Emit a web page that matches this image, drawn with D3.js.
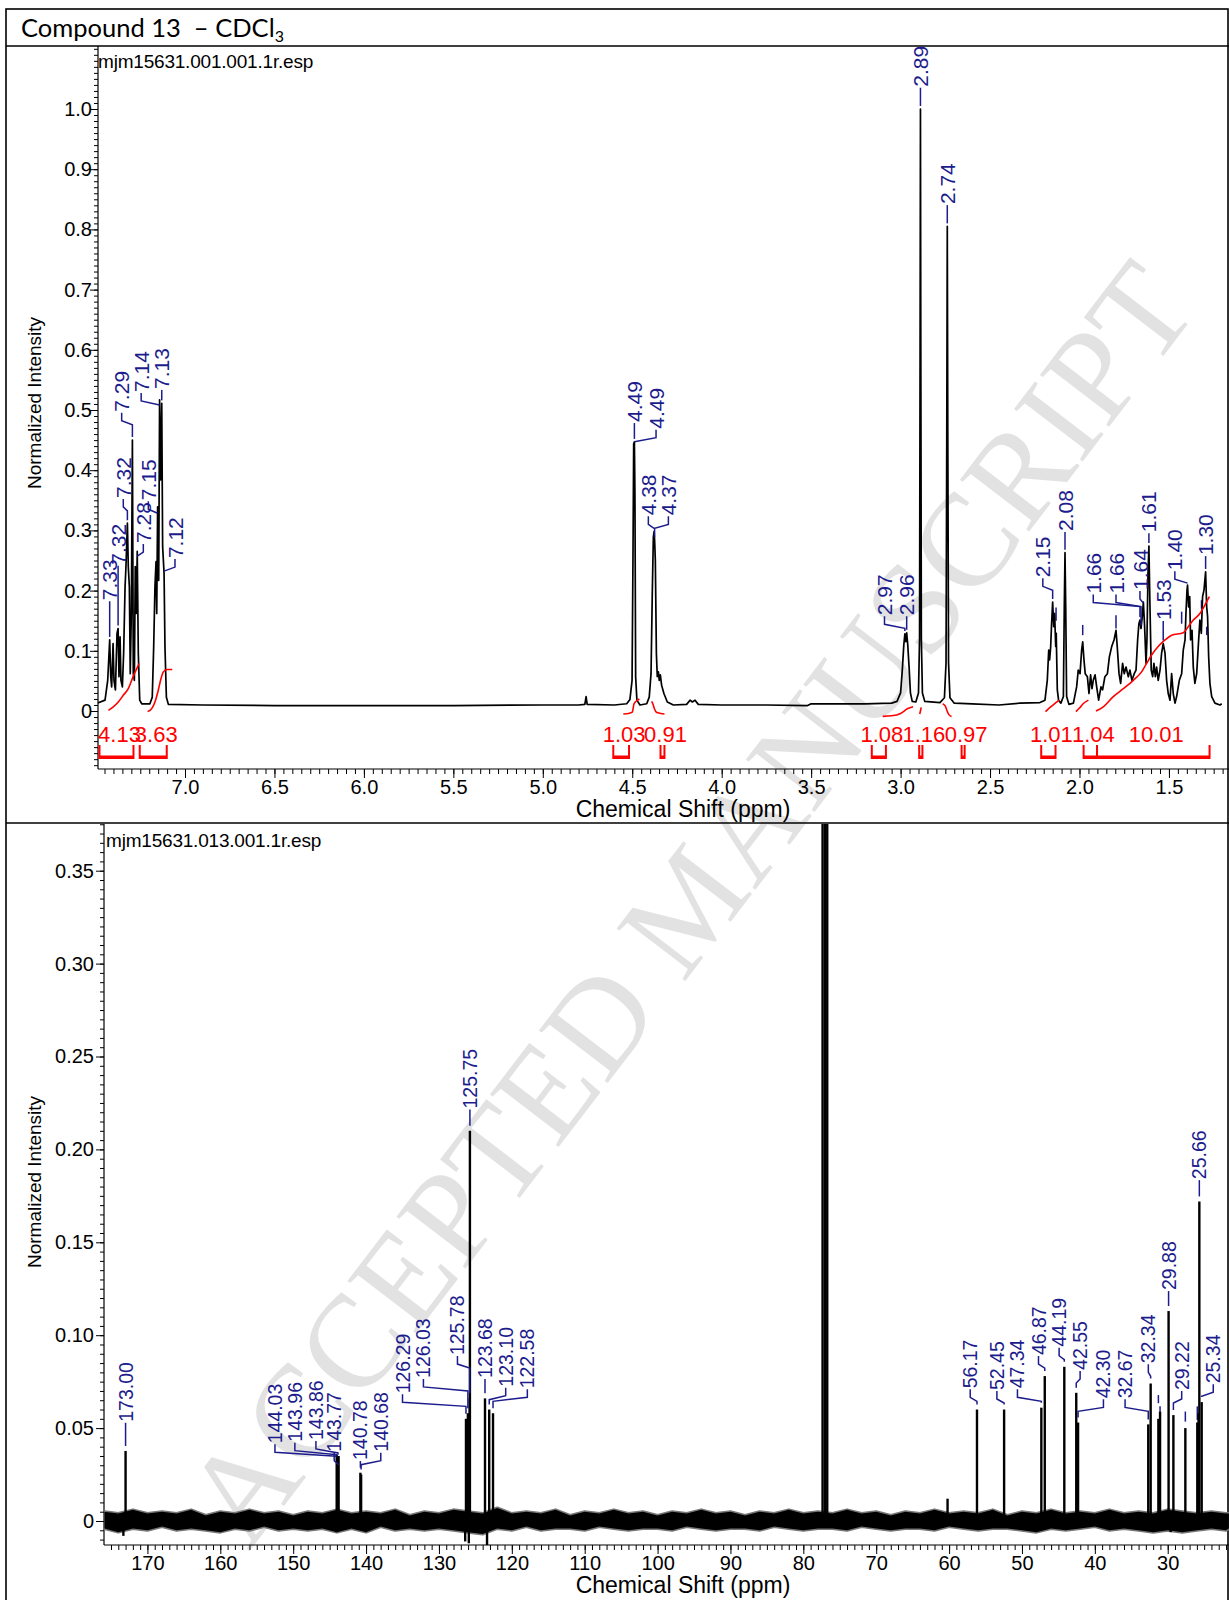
<!DOCTYPE html>
<html>
<head>
<meta charset="utf-8">
<script src="https://cdn.jsdelivr.net/npm/d3@7"></script>
<style>
  body { margin: 0; background: #fff; }
  svg text { font-family: "Liberation Sans", Arial, sans-serif; }
</style>
</head>
<body>
<div id="chart"></div>
<script>
// ---------- 1H spectrum (top panel) ----------
var hTickValues = [7.0, 6.5, 6.0, 5.5, 5.0, 4.5, 4.0, 3.5, 3.0, 2.5, 2.0, 1.5];
var hYTicks = [0, 0.1, 0.2, 0.3, 0.4, 0.5, 0.6, 0.7, 0.8, 0.9, 1.0];

// trace: [ppm, normalized intensity]
var hTrace = [
  [7.49,0.013],[7.447,0.018],[7.432,0.051],[7.421,0.118],[7.415,0.057],[7.410,0.040],[7.402,0.112],[7.397,0.051],
  [7.389,0.035],[7.380,0.129],[7.374,0.137],[7.369,0.057],[7.363,0.123],[7.358,0.051],[7.350,0.040],[7.343,0.096],
  [7.335,0.206],[7.330,0.240],[7.322,0.312],[7.317,0.240],[7.311,0.206],[7.306,0.062],[7.300,0.162],[7.294,0.450],
  [7.289,0.062],[7.283,0.051],[7.278,0.240],[7.272,0.162],[7.267,0.265],[7.261,0.096],[7.253,0.018],[7.242,0.012],
  [7.196,0.012],[7.183,0.023],[7.175,0.107],[7.168,0.206],[7.162,0.248],[7.158,0.162],[7.153,0.339],[7.147,0.217],
  [7.142,0.517],[7.136,0.384],[7.130,0.511],[7.125,0.273],[7.117,0.229],[7.112,0.107],[7.104,0.023],[7.093,0.011],
  [6.9,0.010],[6.5,0.009],[6.0,0.009],[5.5,0.009],[5.0,0.010],[4.80,0.010],[4.765,0.011],[4.758,0.024],[4.752,0.011],
  [4.60,0.010],[4.531,0.012],[4.513,0.019],[4.501,0.051],[4.496,0.25],[4.492,0.444],[4.488,0.447],[4.485,0.361],
  [4.481,0.057],[4.474,0.018],[4.457,0.010],[4.419,0.012],[4.405,0.023],[4.395,0.062],[4.388,0.195],[4.382,0.289],
  [4.378,0.298],[4.375,0.284],[4.371,0.251],[4.365,0.095],[4.36,0.057],[4.354,0.065],[4.349,0.051],[4.343,0.06],
  [4.336,0.043],[4.323,0.029],[4.304,0.015],[4.27,0.010],[4.196,0.011],[4.177,0.018],[4.164,0.015],[4.149,0.018],
  [4.131,0.011],[4.0,0.010],[3.75,0.010],[3.52,0.009],[3.50,0.012],[3.2,0.012],[3.05,0.013],[3.02,0.016],[3.0,0.03],
  [2.99,0.07],[2.982,0.11],[2.976,0.128],[2.971,0.115],[2.966,0.13],[2.96,0.11],[2.952,0.07],[2.945,0.03],[2.935,0.016],
  [2.915,0.015],[2.90,0.03],[2.894,0.12],[2.891,0.6],[2.889,1.0],[2.887,0.6],[2.884,0.12],[2.878,0.03],[2.865,0.016],
  [2.78,0.014],[2.755,0.022],[2.746,0.08],[2.742,0.45],[2.739,0.805],[2.736,0.45],[2.732,0.08],[2.724,0.022],
  [2.70,0.013],[2.6,0.012],[2.45,0.010],[2.333,0.013],[2.221,0.014],[2.193,0.018],[2.180,0.051],[2.172,0.101],
  [2.167,0.085],[2.161,0.107],[2.156,0.145],[2.150,0.181],[2.144,0.140],[2.139,0.162],[2.133,0.107],[2.130,0.129],
  [2.124,0.035],[2.117,0.018],[2.104,0.013],[2.090,0.024],[2.085,0.173],[2.081,0.263],[2.077,0.173],[2.072,0.024],
  [2.059,0.011],[2.034,0.013],[2.016,0.040],[2.007,0.068],[1.997,0.062],[1.988,0.101],[1.982,0.115],[1.975,0.085],
  [1.968,0.062],[1.956,0.057],[1.947,0.029],[1.938,0.060],[1.930,0.037],[1.923,0.051],[1.913,0.060],[1.904,0.040],
  [1.893,0.018],[1.880,0.040],[1.871,0.035],[1.858,0.057],[1.844,0.062],[1.833,0.090],[1.820,0.107],[1.807,0.118],
  [1.796,0.134],[1.789,0.107],[1.779,0.062],[1.770,0.046],[1.759,0.079],[1.750,0.062],[1.740,0.073],[1.727,0.057],
  [1.718,0.068],[1.707,0.051],[1.694,0.062],[1.684,0.068],[1.675,0.118],[1.668,0.145],[1.662,0.151],[1.656,0.137],
  [1.649,0.157],[1.643,0.181],[1.636,0.140],[1.628,0.079],[1.623,0.118],[1.617,0.229],[1.612,0.274],[1.606,0.173],
  [1.599,0.068],[1.591,0.057],[1.584,0.079],[1.576,0.057],[1.569,0.073],[1.560,0.051],[1.550,0.068],[1.541,0.096],
  [1.532,0.112],[1.522,0.096],[1.513,0.051],[1.504,0.029],[1.494,0.018],[1.485,0.062],[1.476,0.029],[1.466,0.013],
  [1.457,0.024],[1.442,0.051],[1.429,0.062],[1.420,0.101],[1.410,0.118],[1.405,0.162],[1.399,0.201],[1.396,0.209],
  [1.390,0.173],[1.384,0.190],[1.379,0.118],[1.371,0.134],[1.364,0.073],[1.355,0.046],[1.345,0.062],[1.334,0.118],
  [1.327,0.151],[1.319,0.129],[1.312,0.190],[1.304,0.201],[1.299,0.218],[1.295,0.231],[1.289,0.173],[1.284,0.157],
  [1.278,0.090],[1.271,0.046],[1.261,0.024],[1.243,0.013],[1.215,0.010],[1.205,0.012]
];

// peak labels: [text, peak ppm, peak top, label ppm, label base]
var hLabels = [
  ["7.33",7.421,0.118,7.421,0.184],
  ["7.32",7.374,0.137,7.382,0.243],
  ["7.32",7.322,0.312,7.345,0.354],
  ["7.29",7.294,0.450,7.354,0.497],
  ["7.28",7.267,0.265,7.233,0.279],
  ["7.15",7.153,0.339,7.205,0.350],
  ["7.14",7.142,0.517,7.245,0.530],
  ["7.13",7.130,0.511,7.130,0.535],
  ["7.12",7.117,0.229,7.056,0.254],
  ["4.49",4.488,0.447,4.488,0.480],
  ["4.49",4.488,0.447,4.367,0.469],
  ["4.38",4.378,0.298,4.410,0.325],
  ["4.37",4.375,0.284,4.298,0.325],
  ["2.97",2.976,0.128,3.090,0.159],
  ["2.96",2.966,0.130,2.966,0.159],
  ["2.89",2.889,1.000,2.889,1.037],
  ["2.74",2.739,0.805,2.739,0.842],
  ["2.15",2.150,0.181,2.205,0.222],
  ["2.08",2.081,0.263,2.081,0.299],
  ["1.66",1.662,0.151,1.923,0.195],
  ["1.66",1.656,0.137,1.796,0.195],
  ["1.64",1.643,0.181,1.662,0.201],
  ["1.61",1.612,0.274,1.612,0.297],
  ["1.53",1.532,0.112,1.532,0.151],
  ["1.40",1.396,0.209,1.467,0.234],
  ["1.30",1.295,0.231,1.295,0.259]
];
// label dashes whose text is hidden: [ppm, from, to]
var hStubs = [[2.131,0.150,0.172],[1.982,0.126,0.143],[1.796,0.137,0.159],[1.429,0.145,0.165],[1.318,0.170,0.184],[1.289,0.126,0.140]];

// integral curves
var hIntegralCurves = [
  [[7.428,0.001],[7.401,0.007],[7.373,0.015],[7.345,0.026],[7.317,0.037],[7.298,0.051],[7.283,0.062],[7.27,0.070],[7.257,0.079]],
  [[7.209,-0.001],[7.186,0.004],[7.168,0.015],[7.149,0.035],[7.134,0.054],[7.121,0.065],[7.102,0.069],[7.071,0.069]],
  [[4.55,-0.005],[4.52,-0.004],[4.50,-0.002],[4.49,0.012],[4.475,0.017],[4.46,0.020]],
  [[4.392,0.016],[4.385,0.012],[4.375,0.003],[4.365,-0.002],[4.34,-0.004],[4.32,-0.005]],
  [[3.10,-0.009],[3.05,-0.008],[3.00,-0.004],[2.96,0.004],[2.93,0.007]],
  [[2.893,-0.005],[2.889,0.0],[2.885,0.006]],
  [[2.765,0.012],[2.75,0.008],[2.74,0.0],[2.73,-0.006],[2.715,-0.009]],
  [[2.19,-0.001],[2.165,0.006],[2.14,0.012],[2.113,0.018]],
  [[2.02,-0.001],[2.00,0.005],[1.98,0.012],[1.95,0.018]],
  [[1.908,0.0],[1.867,0.007],[1.811,0.024],[1.755,0.037],[1.699,0.051],[1.653,0.065],[1.625,0.079],[1.597,0.093],
   [1.560,0.107],[1.522,0.118],[1.485,0.126],[1.420,0.130],[1.392,0.140],[1.364,0.151],[1.327,0.162],[1.299,0.176],[1.274,0.190]]
];
// integral values and ranges [value, from ppm, to ppm]
var hIntegrals = [
  ["4.13",7.478,7.288],["3.63",7.253,7.102],["1.03",4.606,4.518],["0.91",4.342,4.320],["1.08",3.161,3.082],
  ["1.16",2.896,2.878],["0.97",2.659,2.642],["1.01",2.214,2.134],["1.04",1.977,1.902],["10.01",1.902,1.273]
];

// ---------- 13C spectrum (bottom panel) ----------
var cTickValues = [170, 160, 150, 140, 130, 120, 110, 100, 90, 80, 70, 60, 50, 40, 30];
var cYTicks = [0, 0.05, 0.10, 0.15, 0.20, 0.25, 0.30, 0.35];
var cPeaks = [
  [173.00,0.0377],[144.03,0.0355],[143.96,0.034],[143.86,0.033],[143.77,0.035],[140.78,0.026],[140.68,0.025],
  [126.29,0.055],[126.03,0.058],[125.78,0.066],[125.75,0.210],[123.68,0.066],[123.10,0.060],[122.58,0.058],
  [77.36,0.5],[77.04,0.5],[76.72,0.5],[60.21,0.012],[56.17,0.060],[52.45,0.060],[47.34,0.061],[46.87,0.078],
  [44.19,0.083],[42.55,0.069],[42.30,0.053],[32.67,0.052],[32.34,0.074],[31.28,0.055],[31.05,0.059],[29.88,0.113],
  [29.22,0.057],[27.58,0.050],[25.94,0.053],[25.77,0.058],[25.66,0.172],[25.34,0.064]
];
var cSpikes = [[173.3,-0.008],[144.1,-0.006],[140.6,-0.005],[126.4,-0.011],[125.9,-0.012],[123.4,-0.014],[47.2,-0.004],[29.6,-0.006]];
// baseline noise envelope [ppm, upper, lower]
var cNoise = [
  [175.9,0.005,-0.004],[174,0.004,-0.006],[172,0.006,-0.004],[170,0.004,-0.005],[168,0.005,-0.003],[166,0.004,-0.005],
  [164,0.006,-0.004],[162,0.003,-0.005],[160,0.005,-0.006],[158,0.004,-0.004],[156,0.006,-0.005],[154,0.004,-0.003],
  [152,0.005,-0.005],[150,0.003,-0.004],[148,0.005,-0.005],[146,0.004,-0.004],[144,0.006,-0.006],[142,0.004,-0.004],
  [140,0.005,-0.006],[138,0.004,-0.003],[136,0.006,-0.005],[134,0.003,-0.004],[132,0.005,-0.005],[130,0.004,-0.004],
  [128,0.006,-0.005],[126,0.005,-0.006],[124,0.004,-0.007],[122,0.007,-0.004],[120,0.004,-0.005],[118,0.005,-0.003],
  [116,0.004,-0.005],[114,0.006,-0.004],[112,0.003,-0.004],[110,0.005,-0.005],[108,0.004,-0.003],[106,0.006,-0.004],
  [104,0.004,-0.005],[102,0.005,-0.004],[100,0.003,-0.004],[98,0.005,-0.005],[96,0.004,-0.003],[94,0.006,-0.004],
  [92,0.004,-0.005],[90,0.005,-0.004],[88,0.003,-0.004],[86,0.005,-0.005],[84,0.004,-0.003],[82,0.006,-0.004],
  [80,0.004,-0.005],[78,0.005,-0.004],[76,0.004,-0.004],[74,0.006,-0.005],[72,0.004,-0.003],[70,0.005,-0.004],
  [68,0.003,-0.005],[66,0.005,-0.004],[64,0.004,-0.004],[62,0.006,-0.005],[60,0.004,-0.003],[58,0.005,-0.004],
  [56,0.004,-0.005],[54,0.006,-0.004],[52,0.003,-0.004],[50,0.005,-0.005],[48,0.004,-0.006],[46,0.006,-0.004],
  [44,0.004,-0.005],[42,0.005,-0.004],[40,0.004,-0.003],[38,0.006,-0.005],[36,0.004,-0.004],[34,0.005,-0.005],
  [32,0.004,-0.006],[30,0.006,-0.005],[28,0.005,-0.006],[26,0.004,-0.005],[24,0.005,-0.004],[22,0.004,-0.005],
  [21.6,0.004,-0.004]
];
// [text, peak ppm, label ppm, label base]
var cLabels = [
  ["173.00",173.00,173.00,0.0534],["144.03",144.03,152.5,0.0418],["143.96",143.96,149.77,0.0427],
  ["143.86",143.86,146.88,0.0436],["143.77",143.77,144.37,0.0373],["140.78",140.78,140.78,0.0328],
  ["140.68",140.68,137.98,0.0373],["126.29",126.29,135.0,0.0687],["126.03",126.03,132.13,0.077],
  ["125.78",125.78,127.46,0.0893],["125.75",125.75,125.75,0.222],["123.68",123.68,123.68,0.077],
  ["123.10",123.10,120.84,0.0723],["122.58",122.58,117.87,0.0714],["56.17",56.17,57.10,0.0714],
  ["52.45",52.45,53.44,0.0705],["47.34",47.34,50.62,0.0714],["46.87",46.87,47.73,0.0893],
  ["44.19",44.19,44.90,0.0938],["42.55",42.55,42.02,0.0813],["42.30",42.30,38.82,0.066],
  ["32.67",32.67,35.85,0.066],["32.34",32.34,32.66,0.0849],["29.88",29.88,29.88,0.1243],
  ["29.22",29.22,28.08,0.0705],["25.66",25.66,25.66,0.184],["25.34",25.34,23.75,0.0741]
];
var cStubs = [[31.28,0.0634,0.0678],[31.05,0.0589,0.0617],[27.58,0.0535,0.0589],[25.94,0.0544,0.0617]];

var W = 1229, H = 1600;
var labelColor = "#1c1c8c", intColor = "#ff0000";

var svg = d3.select("#chart").append("svg")
  .attr("width", W).attr("height", H);

// watermark (behind everything)
svg.append("text")
  .attr("transform", "translate(689,903) rotate(-52.6)")
  .attr("text-anchor", "middle")
  .attr("dominant-baseline", "central")
  .style("font-family", "'Liberation Serif', 'Times New Roman', serif")
  .attr("font-size", 132)
  .attr("fill", "#e2e2e2")
  .text("ACCEPTED MANUSCRIPT");

// frame
var frame = svg.append("g").attr("stroke", "#000").attr("stroke-width", 1.6).attr("fill", "none");
frame.append("rect").attr("x", 6).attr("y", 9).attr("width", 1222).attr("height", 1600);
frame.append("line").attr("x1", 6).attr("x2", W).attr("y1", 46).attr("y2", 46);
frame.append("line").attr("x1", 6).attr("x2", W).attr("y1", 823).attr("y2", 823);

var title = svg.append("text")
  .attr("x", 21).attr("y", 37)
  .style("font-family", "Lato, 'Open Sans', sans-serif")
  .attr("font-size", 25.5)
  .style("white-space", "pre");
title.append("tspan").text("Compound 13  \u2013 CDCl");
title.append("tspan").attr("font-size", 16).attr("dy", 5).text("3");

// leader polyline from label base to peak top
function leader(lx, ly, px, py, gap) {
  if (Math.abs(lx - px) < 1.5) return [[px, ly + 1], [px, Math.max(ly + 1, py - gap)]];
  var pts = [[lx, ly + 1], [lx, ly + 9], [px, ly + 13]];
  if (py - gap > ly + 13) pts.push([px, py - gap]);
  return pts;
}

function drawPanel(cfg) {
  var x = cfg.x, y = cfg.y;
  var g = svg.append("g");

  // minor + major x ticks
  g.append("g").attr("transform", "translate(0," + cfg.axisY + ")")
    .call(d3.axisBottom(x).tickValues(cfg.xMinor).tickFormat("").tickSize(5).tickSizeOuter(0))
    .call(function(s) { s.select(".domain").remove(); });
  g.append("g").attr("transform", "translate(0," + cfg.axisY + ")")
    .call(d3.axisBottom(x).tickValues(cfg.xTicks).tickFormat(cfg.xFormat).tickSize(9).tickSizeOuter(0).tickPadding(2))
    .call(function(s) { s.select(".domain").remove(); })
    .attr("font-size", 20);

  // minor + major y ticks
  g.append("g").attr("transform", "translate(" + cfg.axisX + ",0)")
    .call(d3.axisLeft(y).tickValues(cfg.yMinor).tickFormat("").tickSize(4).tickSizeOuter(0))
    .call(function(s) { s.select(".domain").remove(); });
  g.append("g").attr("transform", "translate(" + cfg.axisX + ",0)")
    .call(d3.axisLeft(y).tickValues(cfg.yTicks).tickFormat(cfg.yFormat).tickSize(8).tickSizeOuter(0).tickPadding(cfg.yPad))
    .call(function(s) { s.select(".domain").remove(); })
    .attr("font-size", 20);

  // axis lines
  g.append("line").attr("x1", cfg.axisX).attr("x2", W).attr("y1", cfg.axisY).attr("y2", cfg.axisY)
    .attr("stroke", "#000").attr("stroke-width", 1.2);
  g.append("line").attr("x1", cfg.axisX).attr("x2", cfg.axisX).attr("y1", cfg.top).attr("y2", cfg.axisY)
    .attr("stroke", "#000").attr("stroke-width", 1.2);

  g.append("text").attr("x", 683).attr("y", cfg.axisY + 48)
    .attr("text-anchor", "middle").attr("font-size", 23).text("Chemical Shift (ppm)");
  g.append("text")
    .attr("transform", "translate(34," + cfg.yLabelY + ") rotate(-90)")
    .attr("text-anchor", "middle").attr("dy", "0.35em").attr("font-size", 19)
    .text("Normalized Intensity");
  g.append("text").attr("x", cfg.fileX).attr("y", cfg.fileY)
    .attr("font-size", 19).style("letter-spacing", "-0.2px").text(cfg.file);

  svg.append("clipPath").attr("id", cfg.id + "clip").append("rect")
    .attr("x", cfg.axisX).attr("y", cfg.top).attr("width", W - cfg.axisX).attr("height", cfg.axisY - cfg.top);
  return svg.append("g").attr("clip-path", "url(#" + cfg.id + "clip)");
}

function drawLabels(x, y, list, fontSize, gap) {
  var g = svg.append("g");
  list.forEach(function(d) {
    var px = x(d.peak), py = y(d.top), lx = x(d.at), ly = y(d.base);
    if (Math.abs(lx - px) < 1.5) lx = px;
    g.append("path").attr("d", d3.line()(leader(lx, ly, px, py, gap)))
      .attr("fill", "none").attr("stroke", labelColor).attr("stroke-width", 1.5);
    g.append("text")
      .attr("transform", "translate(" + lx + "," + ly + ") rotate(-90)")
      .attr("dy", "0.36em").attr("font-size", fontSize).attr("fill", labelColor)
      .text(d.text);
  });
  return g;
}

// ----- top panel -----
var hx = d3.scaleLinear().domain([7.4863, 1.1643]).range([98, W]);
var hy = d3.scaleLinear().domain([0, 1]).range([711, 109]);
var hMinor = d3.range(24, 150).map(function(i) { return i / 20; });
var hYMinor = d3.range(-9, 111).map(function(i) { return i / 100; });

var hPlot = drawPanel({
  id: "h", x: hx, y: hy, axisX: 98, axisY: 769, top: 46,
  xTicks: hTickValues, xMinor: hMinor, xFormat: d3.format(".1f"),
  yTicks: hYTicks, yMinor: hYMinor, yFormat: function(v) { return v === 0 ? "0" : d3.format(".1f")(v); }, yPad: -2,
  yLabelY: 403, file: "mjm15631.001.001.1r.esp", fileX: 98, fileY: 68
});

hStubs.forEach(function(s) {
  hPlot.append("line").attr("x1", hx(s[0])).attr("x2", hx(s[0])).attr("y1", hy(s[1])).attr("y2", hy(s[2]))
    .attr("stroke", labelColor).attr("stroke-width", 1.5);
});
drawLabels(hx, hy, hLabels.map(function(d) {
  return { text: d[0], peak: d[1], top: d[2], at: d[3], base: d[4] };
}), 21, 3);

hPlot.append("path").datum(hTrace)
  .attr("d", d3.line().x(function(d) { return hx(d[0]); }).y(function(d) { return hy(d[1]); }))
  .attr("fill", "none").attr("stroke", "#000").attr("stroke-width", 1.7).attr("stroke-linejoin", "round");

hIntegralCurves.forEach(function(c) {
  hPlot.append("path").datum(c)
    .attr("d", d3.line().curve(d3.curveMonotoneX).x(function(d) { return hx(d[0]); }).y(function(d) { return hy(d[1]); }))
    .attr("fill", "none").attr("stroke", intColor).attr("stroke-width", 1.6);
});

var ig = svg.append("g");
hIntegrals.forEach(function(d) {
  var x0 = hx(d[1]), x1 = hx(d[2]);
  ig.append("path").attr("d", "M" + x0 + ",745V758H" + x1 + "V745")
    .attr("fill", "none").attr("stroke", intColor).attr("stroke-width", 2);
  ig.append("line").attr("x1", x0).attr("x2", x1).attr("y1", 757).attr("y2", 757)
    .attr("stroke", intColor).attr("stroke-width", 3);
  ig.append("text").attr("x", (x0 + x1) / 2 + 3).attr("y", 742)
    .attr("text-anchor", "middle").attr("font-size", 22).attr("fill", intColor).text(d[0]);
});

// ----- bottom panel -----
var cx = d3.scaleLinear().domain([175.96, 21.59]).range([104, W]);
var cy = d3.scaleLinear().domain([0, 0.35]).range([1521, 870.7]);
var cMinor = d3.range(22, 176);
var cYMinor = d3.range(-2, 76).map(function(i) { return i / 200; });

var cPlot = drawPanel({
  id: "c", x: cx, y: cy, axisX: 104, axisY: 1545, top: 824,
  xTicks: cTickValues, xMinor: cMinor, xFormat: d3.format("d"),
  yTicks: cYTicks, yMinor: cYMinor, yFormat: function(v) { return v === 0 ? "0" : d3.format(".2f")(v); }, yPad: 2,
  yLabelY: 1182, file: "mjm15631.013.001.1r.esp", fileX: 106, fileY: 847
});

cStubs.forEach(function(s) {
  cPlot.append("line").attr("x1", cx(s[0])).attr("x2", cx(s[0])).attr("y1", cy(s[1])).attr("y2", cy(s[2]))
    .attr("stroke", labelColor).attr("stroke-width", 1.5);
});
drawLabels(cx, cy, cLabels.map(function(d) {
  var pk = cPeaks.find(function(p) { return Math.abs(p[0] - d[1]) < 0.001; });
  return { text: d[0], peak: d[1], top: pk[1], at: d[2], base: d[3] };
}), 19.5, 5);

// noise band: soft grey fringe under a black core
var noiseArea = d3.area().x(function(d) { return cx(d[0]); })
  .y0(function(d) { return cy(d[2]); }).y1(function(d) { return cy(d[1]); });
cPlot.append("path").datum(cNoise).attr("d", noiseArea)
  .attr("fill", "#222").attr("stroke", "#777").attr("stroke-width", 3).attr("stroke-linejoin", "round");
cPlot.append("path").datum(cNoise).attr("d", noiseArea)
  .attr("fill", "#000").attr("stroke", "none");

cPlot.selectAll("path.peak").data(cPeaks.concat(cSpikes)).enter().append("path")
  .attr("class", "peak")
  .attr("d", function(d) { return "M" + cx(d[0]) + "," + cy(0) + "V" + cy(d[1]); })
  .attr("stroke", "#000").attr("stroke-width", 2.4);
</script>
</body>
</html>
